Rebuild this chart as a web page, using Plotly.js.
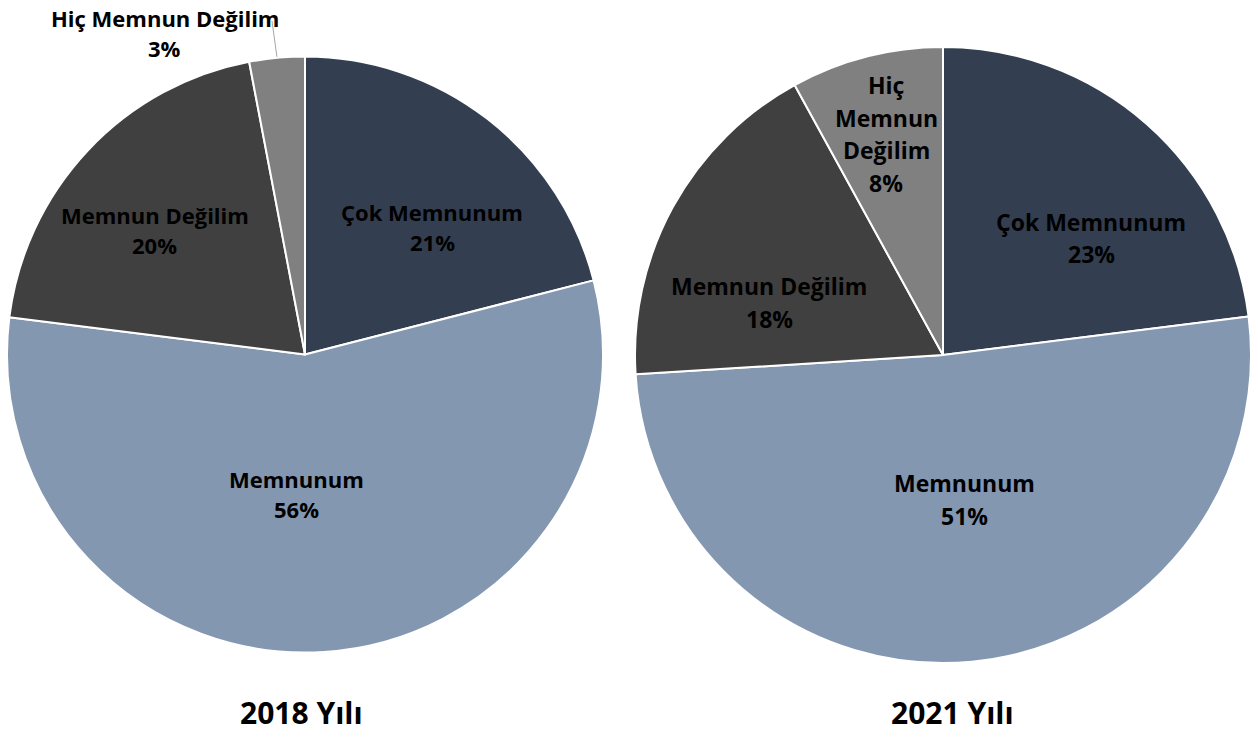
<!DOCTYPE html>
<html>
<head>
<meta charset="utf-8">
<script src="https://cdn.plot.ly/plotly-3.0.1.min.js"></script>
<style>html,body{margin:0;padding:0;background:#fff;}#chart{width:1258px;height:737px;}</style>
</head>
<body>
<div id="chart"></div>
<script>
// ---- data ----
const categories = ['Çok Memnunum', 'Memnunum', 'Memnun Değilim', 'Hiç Memnun Değilim'];
const values2018 = [21, 56, 20, 3];
const values2021 = [23, 51, 18, 8];
const labels2018 = ['Çok Memnunum', 'Memnunum', 'Memnun Değilim', 'Hiç Memnun Değilim'];
const labels2021 = ['Çok Memnunum', 'Memnunum', 'Memnun Değilim', 'Hiç<br>Memnun<br>Değilim'];
const titles = ['2018 Yılı', '2021 Yılı'];

// ---- style ----
const colors = ['#333F50', '#8497B0', '#404040', '#808080'];
const FONT = '"Open Sans", "Noto Sans", sans-serif';
const W = 1258, H = 737;
// pie geometry (pixels): centre, radius, label font size and line gap
const pies = [
  {cx: 305, cy: 354.5, r: 298, fs: 22, gap: 30},
  {cx: 943, cy: 355, r: 308, fs: 23, gap: 32.5}
];
// label placement style: radial fraction and angular nudge (deg) per slice
const place2018 = [[0.605, 7], [0.47, 7], [0.655, -3.5], null];
const place2021 = [[0.613, 10.3], [0.475, -3], [0.59, -12], [0.74, 0]];

function domainOf(p) {
  return {x: [(p.cx - p.r) / W, (p.cx + p.r) / W], y: [1 - (p.cy + p.r) / H, 1 - (p.cy - p.r) / H]};
}

const common = {
  type: 'pie',
  labels: categories,
  sort: false,
  direction: 'clockwise',
  rotation: 0,
  marker: {colors: colors, line: {color: '#ffffff', width: 2}},
  textinfo: 'none',
  showlegend: false,
  hoverinfo: 'label+percent'
};

const data = [
  Object.assign({}, common, {values: values2018, domain: domainOf(pies[0])}),
  Object.assign({}, common, {values: values2021, domain: domainOf(pies[1])})
];

// mid angles (deg, clockwise from 12 o'clock)
function midAngles(vals) {
  const tot = vals.reduce((a, b) => a + b, 0);
  let cum = 0;
  return vals.map(v => { const m = (cum + v / 2) / tot * 360; cum += v; return m; });
}
function pctText(vals, i) {
  const tot = vals.reduce((a, b) => a + b, 0);
  return Math.round(vals[i] / tot * 100) + '%';
}

const annotations = [];
const shapes = [];

// place a multi-line label centred at pixel (px, py) with explicit line gap
function addLabel(lines, px, py, p, xanchor) {
  const n = lines.length;
  lines.forEach((ln, j) => {
    const y = py + (j - (n - 1) / 2) * p.gap;
    annotations.push({
      text: '<b>' + ln + '</b>', showarrow: false, xref: 'paper', yref: 'paper',
      x: px / W, y: 1 - y / H, xanchor: xanchor || 'center', yanchor: 'middle',
      font: {family: FONT, size: p.fs, color: '#000000'}
    });
  });
}

[[values2018, labels2018, place2018], [values2021, labels2021, place2021]].forEach(([vals, labs, place], k) => {
  const p = pies[k];
  const mids = midAngles(vals);
  vals.forEach((v, i) => {
    const lines = labs[i].split('<br>').concat([pctText(vals, i)]);
    if (place[i]) {
      const a = (mids[i] + place[i][1]) * Math.PI / 180;
      const rr = p.r * place[i][0];
      addLabel(lines, p.cx + rr * Math.sin(a), p.cy - rr * Math.cos(a), p);
    } else {
      // outside label with leader line
      const a = mids[i] * Math.PI / 180;
      const tx = p.cx + p.r * Math.sin(a), ty = p.cy - p.r * Math.cos(a);
      shapes.push({type: 'line', xref: 'paper', yref: 'paper',
        x0: tx / W, y0: 1 - (ty - 1) / H, x1: (tx - 5) / W, y1: 1 - (ty - 37) / H,
        line: {color: '#A6A6A6', width: 1}});
      addLabel(lines, tx - 112, ty - 25, p);
    }
  });
  annotations.push({
    text: '<b>' + titles[k] + '</b>', showarrow: false, xref: 'paper', yref: 'paper',
    x: (p.cx + (k === 0 ? -4 : 9)) / W, y: 1 - 712 / H, xanchor: 'center', yanchor: 'middle',
    font: {family: FONT, size: 30, color: '#000000'}
  });
});

const layout = {
  width: W, height: H,
  margin: {l: 0, r: 0, t: 0, b: 0},
  paper_bgcolor: '#ffffff',
  font: {family: FONT},
  annotations: annotations,
  shapes: shapes
};

Plotly.newPlot('chart', data, layout, {staticPlot: true});
</script>
</body>
</html>
